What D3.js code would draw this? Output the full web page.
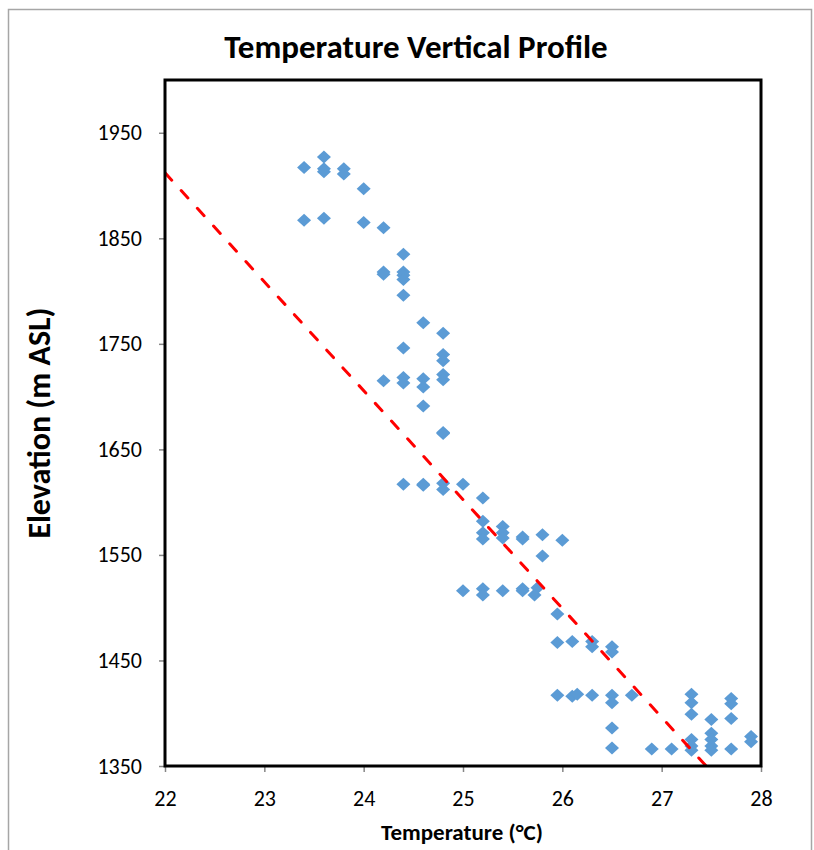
<!DOCTYPE html>
<html>
<head>
<meta charset="utf-8">
<script src="https://cdn.jsdelivr.net/npm/d3@7"></script>
<style>
  body { margin: 0; background: #fff; }
  svg { display: block; }
</style>
</head>
<body>
<div id="chart"></div>
<script>
// readings (temperature in °C, elevation in m ASL)
const temperature = [
  23.4, 23.6, 23.6, 23.6, 23.8, 23.8, 24.0, 23.4, 23.6, 24.0, 24.2, 24.4,
  24.2, 24.2, 24.4, 24.4, 24.4, 24.4, 24.6, 24.8, 24.4, 24.8, 24.8, 24.8,
  24.8, 24.2, 24.4, 24.4, 24.6, 24.6, 24.6, 24.8, 24.8,
  24.4, 24.6, 24.6, 24.8, 24.8, 25.0, 25.2, 25.2, 25.2, 25.2, 25.4, 25.4,
  25.4, 25.6, 25.6, 25.8, 26.0, 25.8, 25.0, 25.2, 25.2, 25.4, 25.6, 25.6,
  25.75, 25.72, 25.95, 25.95, 26.1, 26.3, 26.3, 26.5, 26.5,
  25.95, 26.1, 26.15, 26.3, 26.5, 26.5, 26.7, 27.3, 27.3, 27.3, 27.7, 27.7,
  27.7, 27.5, 26.5, 26.5, 26.9, 27.1, 27.3, 27.3, 27.3, 27.5, 27.5, 27.5,
  27.5, 27.7, 27.9, 27.9
];
const elevation = [
  1917, 1927, 1916, 1913, 1916, 1911, 1897, 1867, 1869, 1865, 1860, 1835,
  1818, 1816, 1818, 1815, 1811, 1796, 1770, 1760, 1746, 1740, 1734, 1721,
  1716, 1715, 1718, 1713, 1717, 1709, 1691, 1666, 1665,
  1617, 1617, 1616, 1618, 1612, 1617, 1604, 1582, 1571, 1565, 1577, 1571,
  1566, 1567, 1565, 1569, 1564, 1549, 1516, 1518, 1512, 1516, 1518, 1516,
  1519, 1512, 1494, 1467, 1468, 1468, 1463, 1463, 1458,
  1417, 1416, 1418, 1417, 1417, 1410, 1417, 1418, 1410, 1399, 1414, 1409,
  1395, 1394, 1386, 1367, 1366, 1366, 1375, 1369, 1365, 1381, 1375, 1369,
  1365, 1366, 1378, 1373
];

// linear trendline, two ends in data units
const trendTemp = [22, 28];
const trendElev = [1912, 1293];

const xTicks = [22, 23, 24, 25, 26, 27, 28];
const yTicks = [1350, 1450, 1550, 1650, 1750, 1850, 1950];

const points = temperature.map((t, i) => ({t: t, e: elevation[i]}));

const width = 814, height = 850;
const margin = {top: 80, right: 53, bottom: 84, left: 165};
const plotW = width - margin.left - margin.right;
const plotH = height - margin.top - margin.bottom;
const font = "Carlito, Calibri, Lato, sans-serif";

const svg = d3.select("#chart").append("svg")
    .attr("width", width)
    .attr("height", height);

// chart area border
svg.append("rect")
    .attr("x", 8.5).attr("y", 9.5)
    .attr("width", 803).attr("height", 850)
    .attr("fill", "#fff")
    .attr("stroke", "#a6a6a6")
    .attr("stroke-width", 1.5);

svg.append("text")
    .attr("x", 416)
    .attr("y", 58)
    .attr("text-anchor", "middle")
    .attr("font-family", font)
    .attr("font-weight", "bold")
    .attr("font-size", "33px")
    .text("Temperature Vertical Profile");

const g = svg.append("g")
    .attr("transform", `translate(${margin.left},${margin.top})`);

const x = d3.scaleLinear().domain([22, 28]).range([0, plotW]);
const y = d3.scaleLinear().domain([1350, 2000]).range([plotH, 0]);

// axes
g.append("g")
    .attr("transform", `translate(0,${plotH})`)
    .call(d3.axisBottom(x).tickValues(xTicks).tickFormat(d3.format("d"))
      .tickSize(6).tickPadding(18))
    .call(a => a.select(".domain").remove())
    .call(a => a.selectAll(".tick line").attr("stroke", "#868686").attr("stroke-width", 1.5))
    .call(a => a.selectAll(".tick text")
      .attr("font-family", font).attr("font-size", "22px").attr("fill", "#000"));

g.append("g")
    .call(d3.axisLeft(y).tickValues(yTicks).tickFormat(d3.format("d"))
      .tickSize(6).tickPadding(17))
    .call(a => a.select(".domain").remove())
    .call(a => a.selectAll(".tick line").attr("stroke", "#868686").attr("stroke-width", 1.5))
    .call(a => a.selectAll(".tick text")
      .attr("font-family", font).attr("font-size", "22px").attr("fill", "#000"));

// axis titles
svg.append("text")
    .attr("x", 462)
    .attr("y", 840)
    .attr("text-anchor", "middle")
    .attr("font-family", font)
    .attr("font-weight", "bold")
    .attr("font-size", "23px")
    .text("Temperature (°C)");

svg.append("text")
    .attr("transform", `translate(50,${margin.top + plotH / 2}) rotate(-90)`)
    .attr("text-anchor", "middle")
    .attr("font-family", font)
    .attr("font-weight", "bold")
    .attr("font-size", "32px")
    .text("Elevation (m ASL)");

// points
const diamond = "M0,-6.5L7,0L0,6.5L-7,0Z";
g.selectAll(".pt")
  .data(points)
  .join("path")
    .attr("class", "pt")
    .attr("d", diamond)
    .attr("transform", d => `translate(${x(d.t)},${y(d.e)})`)
    .attr("fill", "#5b9bd5");

// trendline
g.append("clipPath").attr("id", "clip")
  .append("rect").attr("width", plotW).attr("height", plotH);

g.append("path")
    .datum(trendTemp.map((t, i) => [t, trendElev[i]]))
    .attr("clip-path", "url(#clip)")
    .attr("fill", "none")
    .attr("stroke", "#ff0000")
    .attr("stroke-width", 3)
    .attr("stroke-dasharray", "10,14")
    .attr("stroke-linecap", "round")
    .attr("d", d3.line().x(d => x(d[0])).y(d => y(d[1])));

// plot frame
g.append("rect")
    .attr("width", plotW)
    .attr("height", plotH)
    .attr("fill", "none")
    .attr("stroke", "#000")
    .attr("stroke-width", 3);
</script>
</body>
</html>
